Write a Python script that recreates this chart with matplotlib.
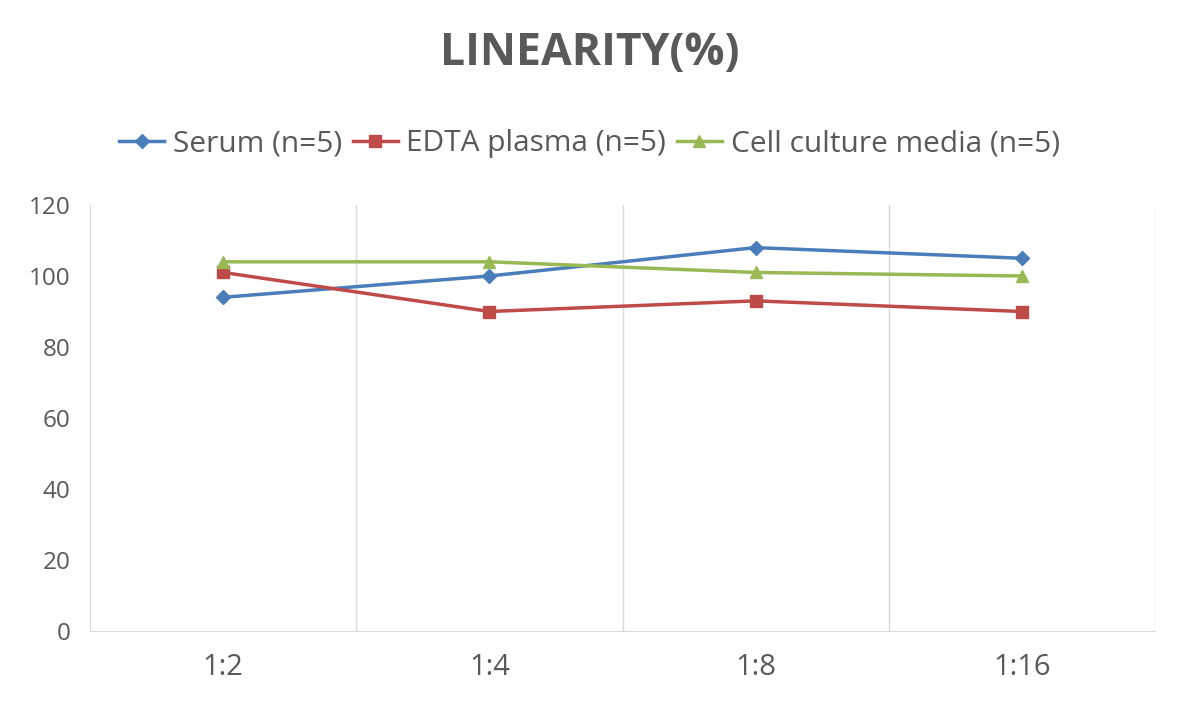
import matplotlib.pyplot as plt

# data
dilutions = ['1:2', '1:4', '1:8', '1:16']
serum = [94, 100, 108, 105]
edta_plasma = [101, 90, 93, 90]
cell_media = [104, 104, 101, 100]

plt.rcParams['font.family'] = ['Open Sans', 'DejaVu Sans']

fig = plt.figure(figsize=(11.79, 7.05), dpi=100)
ax = fig.add_axes([90/1179, 74/705, 1065/1179, 426/705])

x = range(len(dilutions))
ax.plot(x, serum, color='#4a7ebb', lw=2.5, marker='D', ms=7, label='Serum (n=5)')
ax.plot(x, edta_plasma, color='#be4b48', lw=2.5, marker='s', ms=8, label='EDTA plasma (n=5)')
ax.plot(x, cell_media, color='#98b954', lw=2.5, marker='^', ms=9, label='Cell culture media (n=5)')

ax.set_xlim(-0.5, 3.5)
ax.set_ylim(0, 120)
ax.set_yticks(range(0, 121, 20))
ax.set_xticks(list(x))
ax.set_xticklabels(dilutions)
for b in [0.5, 1.5, 2.5, 3.5]:
    ax.axvline(b, color='#d9d9d9', lw=1, zorder=0)

for s in ['top', 'right']:
    ax.spines[s].set_visible(False)
ax.spines['left'].set_color('#d9d9d9')
ax.spines['bottom'].set_color('#d9d9d9')
ax.tick_params(length=0, labelsize=17.5, labelcolor='#595959', pad=14)
ax.tick_params(axis='x', labelsize=21, pad=16)

fig.text(0.5, 1 - 53/705, 'LINEARITY(%)', ha='center', va='center', fontsize=32,
         fontweight='bold', color='#595959')
fig.legend(loc='center', bbox_to_anchor=(0.5, 1 - 144/705), ncol=3, frameon=False,
           fontsize=21.5, labelcolor='#595959', handlelength=1.5,
           handletextpad=0.3, columnspacing=0.35)

fig.savefig('out.png', dpi=100)
